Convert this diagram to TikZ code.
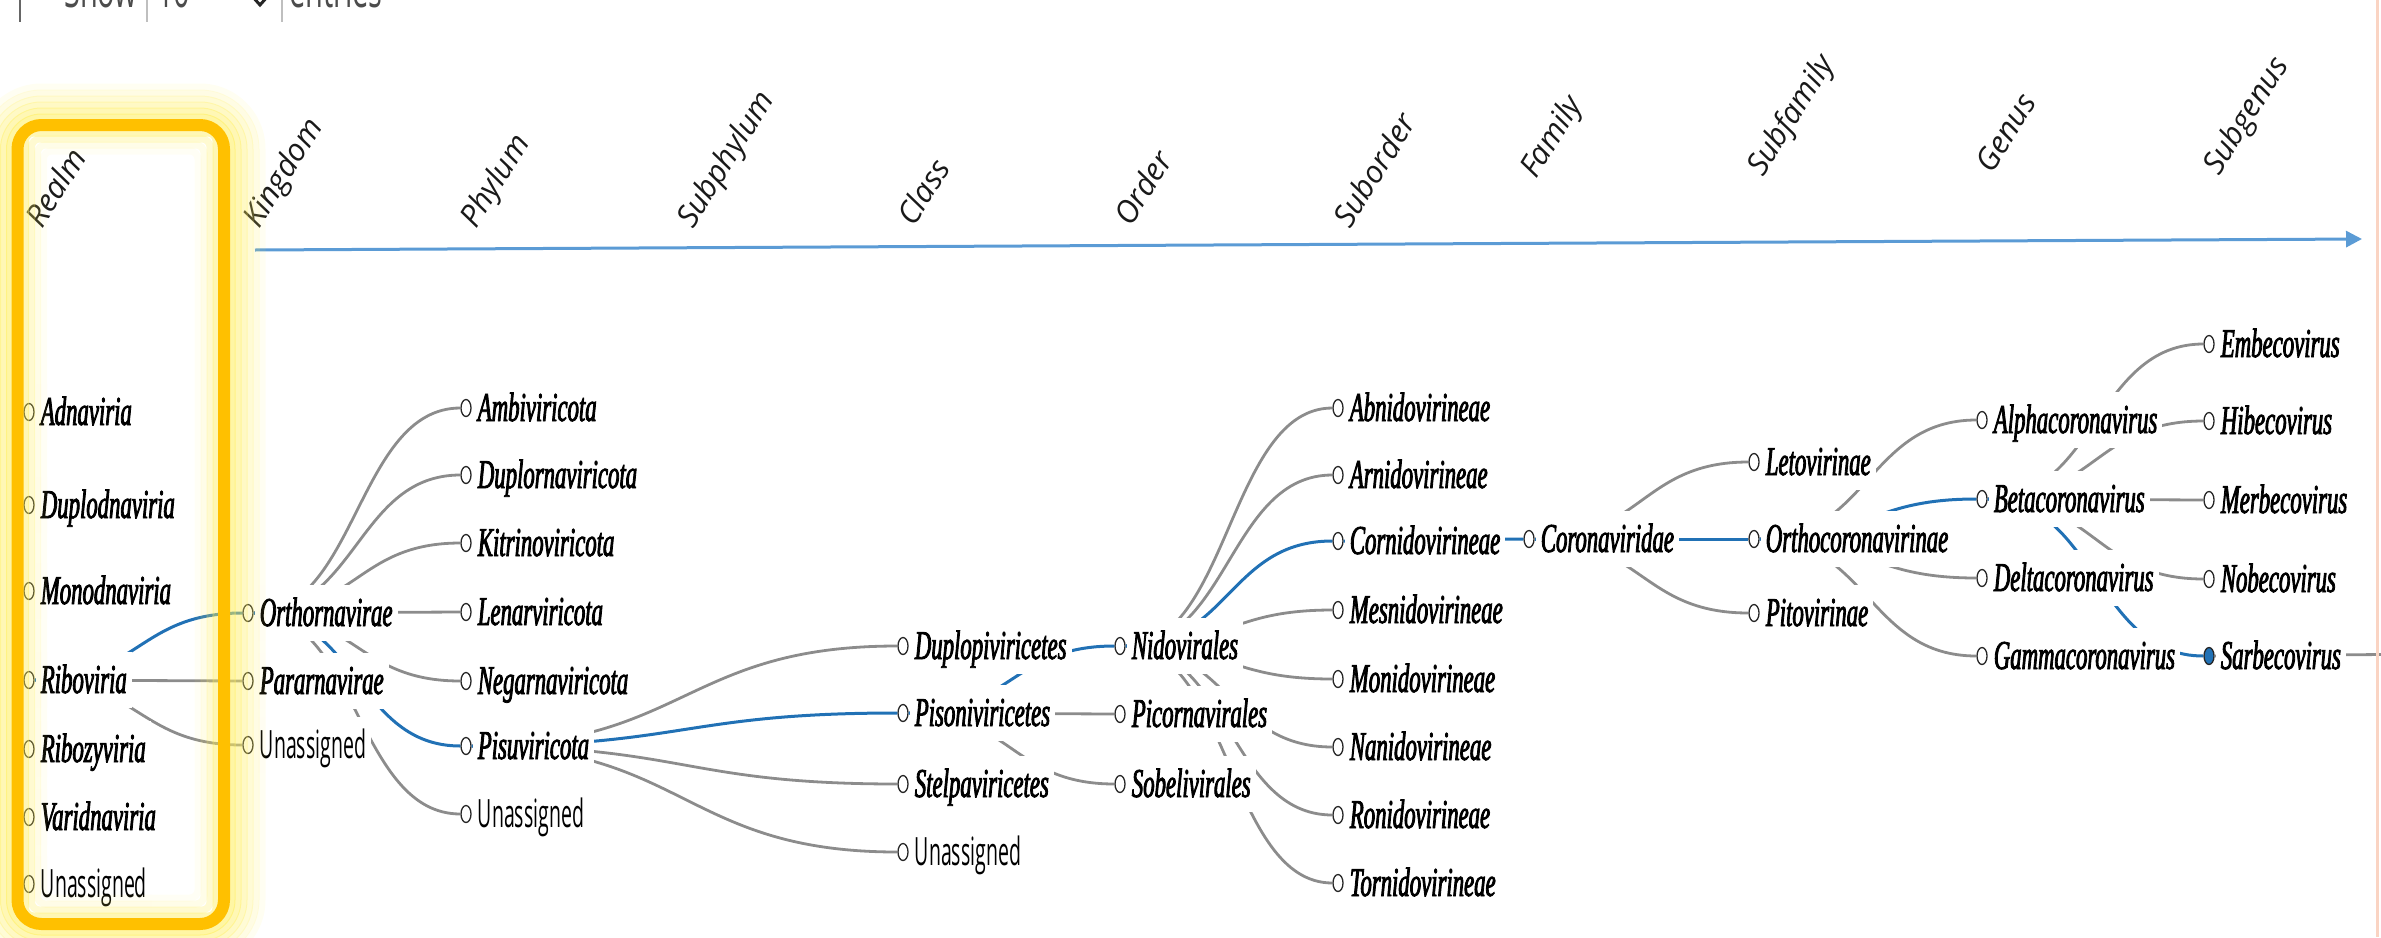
\documentclass[tikz,border=0pt]{standalone}
\usepackage{fontspec}
\usetikzlibrary{arrows.meta,calc,shapes.geometric}
\newfontfamily\taxfont[FakeStretch=0.555,FakeBold=2]{Liberation Serif}
\newfontfamily\plainfont[FakeStretch=0.5]{Open Sans}
\newfontfamily\uifont[FakeStretch=0.58]{Open Sans}
\newfontfamily\headfont{Open Sans}
\definecolor{linkgray}{RGB}{140,140,140}
\definecolor{linkblue}{RGB}{33,113,181}
\definecolor{axisblue}{RGB}{91,155,213}
\definecolor{boxgold}{RGB}{255,192,0}
\definecolor{glowyellow}{RGB}{255,238,90}
\definecolor{edgepink}{RGB}{250,212,195}
\tikzset{
  dot/.style={ellipse, draw=black!85, line width=1.3pt, fill=white,
    minimum width=10pt, minimum height=17pt, inner sep=0pt},
  taxon/.style={anchor=west, fill=white, inner xsep=5pt, inner ysep=0pt,
    text height=29pt, text depth=3pt, minimum height=56pt, text=black,
    font=\taxfont\itshape\fontsize{41}{42}\selectfont},
  unassigned/.style={taxon, font=\plainfont\fontsize{39}{40}\selectfont},
  rank/.style={anchor=base west, inner sep=0pt, rotate=58,
    text=black!90, font=\headfont\itshape\fontsize{31}{31}\selectfont},
  link/.style={draw=linkgray, line width=2.8pt},
  onpath/.style={draw=linkblue, line width=3pt},
  ui/.style={anchor=base west, inner sep=0pt, text=black!70,
    font=\uifont\fontsize{50}{50}\selectfont}
}
% tree link: horizontal tangents at both ends, controls at half the column gap
\newcommand\treelink[3][link]{%
  \draw[#1] let \p1=(#2.center), \p2=(#3.center), \n1={0.5*(\x2-\x1)} in
    (#2) .. controls +(\n1,0) and +(-\n1,0) .. (#3);}
\begin{document}
\begin{tikzpicture}[x=1pt, y=-1pt]
\useasboundingbox (0,0) rectangle (2381,937);

% table controls at the top edge
\draw[black!60, line width=2pt] (20,-5) -- (20,22);
\draw[black!25, line width=1.5pt] (147,-5) -- (147,22);
\draw[black!25, line width=1.5pt] (282,-5) -- (282,22);
\node[ui] (show) at (64,7) {Show};
\node[ui] (ten) at (157,7) {10};
\draw[black!85, line width=3pt] (252,-4) -- (260,5) -- (268,-4);
\node[ui] (entries) at (289,7) {entries};

% rank axis
\coordinate (axs) at (255,250);
\coordinate (axe) at (2362,239);
\draw[axisblue, line width=3pt, -{Triangle[length=16pt,width=16pt]}] (axs) -- (axe);

% rank headers
\node[rank] (hRealm) at (42,230) {Realm};
\node[rank] (hKingdom) at (259,230) {Kingdom};
\node[rank] (hPhylum) at (476,230) {Phylum};
\node[rank] (hSubphylum) at (693,230) {Subphylum};
\node[rank] (hClass) at (914,228) {Class};
\node[rank] (hOrder) at (1131,228) {Order};
\node[rank] (hSuborder) at (1350,230) {Suborder};
\node[rank] (hFamily) at (1536,180) {Family};
\node[rank] (hSubfamily) at (1763,178) {Subfamily};
\node[rank] (hGenus) at (1992,175) {Genus};
\node[rank] (hSubgenus) at (2219,177) {Subgenus};

% tree nodes
\node[dot] (r1) at (29,412) {};
\node[dot] (r2) at (29,505) {};
\node[dot] (r3) at (29,591) {};
\node[dot] (r4) at (29,680) {};
\node[dot] (r5) at (29,749) {};
\node[dot] (r6) at (29,817) {};
\node[dot] (r7) at (29,884) {};
\node[dot] (k1) at (248,613) {};
\node[dot] (k2) at (248,681) {};
\node[dot] (k3) at (248,745) {};
\node[dot] (p1) at (466,408) {};
\node[dot] (p2) at (466,475) {};
\node[dot] (p3) at (466,543) {};
\node[dot] (p4) at (466,612) {};
\node[dot] (p5) at (466,681) {};
\node[dot] (p6) at (466,746) {};
\node[dot] (p7) at (466,814) {};
\node[dot] (c1) at (903,646) {};
\node[dot] (c2) at (903,713) {};
\node[dot] (c3) at (903,784) {};
\node[dot] (c4) at (903,852) {};
\node[dot] (o1) at (1120,646) {};
\node[dot] (o2) at (1120,714) {};
\node[dot] (o3) at (1120,784) {};
\node[dot] (s1) at (1338,408) {};
\node[dot] (s2) at (1338,475) {};
\node[dot] (s3) at (1338,541) {};
\node[dot] (s4) at (1338,610) {};
\node[dot] (s5) at (1338,679) {};
\node[dot] (s6) at (1338,747) {};
\node[dot] (s7) at (1338,815) {};
\node[dot] (s8) at (1338,883) {};
\node[dot] (f1) at (1529,539) {};
\node[dot] (sf1) at (1754,462) {};
\node[dot] (sf2) at (1754,539) {};
\node[dot] (sf3) at (1754,613) {};
\node[dot] (g1) at (1982,420) {};
\node[dot] (g2) at (1982,499) {};
\node[dot] (g3) at (1982,578) {};
\node[dot] (g4) at (1982,656) {};
\node[dot] (sg1) at (2209,344) {};
\node[dot] (sg2) at (2209,421) {};
\node[dot] (sg3) at (2209,500) {};
\node[dot] (sg4) at (2209,579) {};
\node[dot, fill=linkblue] (sg5) at (2209,656) {};
\coordinate (species) at (2440,654);

% links
\treelink{r4}{k2}
\treelink{r4}{k3}
\treelink{k1}{p1}
\treelink{k1}{p2}
\treelink{k1}{p3}
\treelink{k1}{p4}
\treelink{k1}{p5}
\treelink{k1}{p7}
\treelink{p6}{c1}
\treelink{p6}{c3}
\treelink{p6}{c4}
\treelink{c2}{o2}
\treelink{c2}{o3}
\treelink{o1}{s1}
\treelink{o1}{s2}
\treelink{o1}{s4}
\treelink{o1}{s5}
\treelink{o1}{s6}
\treelink{o1}{s7}
\treelink{o1}{s8}
\treelink{f1}{sf1}
\treelink{f1}{sf3}
\treelink{sf2}{g1}
\treelink{sf2}{g3}
\treelink{sf2}{g4}
\treelink{g2}{sg1}
\treelink{g2}{sg2}
\treelink{g2}{sg3}
\treelink{g2}{sg4}
\draw[link] (sg5) -- (species);
% highlighted lineage
\treelink[onpath]{r4}{k1}
\treelink[onpath]{k1}{p6}
\treelink[onpath]{p6}{c2}
\treelink[onpath]{c2}{o1}
\treelink[onpath]{o1}{s3}
\treelink[onpath]{s3}{f1}
\treelink[onpath]{f1}{sf2}
\treelink[onpath]{sf2}{g2}
\treelink[onpath]{g2}{sg5}

% labels
\node[taxon] (r1t) at ([xshift=1pt]r1.east) {Adnaviria};
\node[taxon] (r2t) at ([xshift=1pt]r2.east) {Duplodnaviria};
\node[taxon] (r3t) at ([xshift=1pt]r3.east) {Monodnaviria};
\node[taxon] (r4t) at ([xshift=1pt]r4.east) {Riboviria};
\node[taxon] (r5t) at ([xshift=1pt]r5.east) {Ribozyviria};
\node[taxon] (r6t) at ([xshift=1pt]r6.east) {Varidnaviria};
\node[unassigned] (r7t) at ([xshift=1pt]r7.east) {Unassigned};
\node[taxon] (k1t) at ([xshift=1pt]k1.east) {Orthornavirae};
\node[taxon] (k2t) at ([xshift=1pt]k2.east) {Pararnavirae};
\node[unassigned] (k3t) at ([xshift=1pt]k3.east) {Unassigned};
\node[taxon] (p1t) at ([xshift=1pt]p1.east) {Ambiviricota};
\node[taxon] (p2t) at ([xshift=1pt]p2.east) {Duplornaviricota};
\node[taxon] (p3t) at ([xshift=1pt]p3.east) {Kitrinoviricota};
\node[taxon] (p4t) at ([xshift=1pt]p4.east) {Lenarviricota};
\node[taxon] (p5t) at ([xshift=1pt]p5.east) {Negarnaviricota};
\node[taxon] (p6t) at ([xshift=1pt]p6.east) {Pisuviricota};
\node[unassigned] (p7t) at ([xshift=1pt]p7.east) {Unassigned};
\node[taxon] (c1t) at ([xshift=1pt]c1.east) {Duplopiviricetes};
\node[taxon] (c2t) at ([xshift=1pt]c2.east) {Pisoniviricetes};
\node[taxon] (c3t) at ([xshift=1pt]c3.east) {Stelpaviricetes};
\node[unassigned] (c4t) at ([xshift=1pt]c4.east) {Unassigned};
\node[taxon] (o1t) at ([xshift=1pt]o1.east) {Nidovirales};
\node[taxon] (o2t) at ([xshift=1pt]o2.east) {Picornavirales};
\node[taxon] (o3t) at ([xshift=1pt]o3.east) {Sobelivirales};
\node[taxon] (s1t) at ([xshift=1pt]s1.east) {Abnidovirineae};
\node[taxon] (s2t) at ([xshift=1pt]s2.east) {Arnidovirineae};
\node[taxon] (s3t) at ([xshift=1pt]s3.east) {Cornidovirineae};
\node[taxon] (s4t) at ([xshift=1pt]s4.east) {Mesnidovirineae};
\node[taxon] (s5t) at ([xshift=1pt]s5.east) {Monidovirineae};
\node[taxon] (s6t) at ([xshift=1pt]s6.east) {Nanidovirineae};
\node[taxon] (s7t) at ([xshift=1pt]s7.east) {Ronidovirineae};
\node[taxon] (s8t) at ([xshift=1pt]s8.east) {Tornidovirineae};
\node[taxon] (f1t) at ([xshift=1pt]f1.east) {Coronaviridae};
\node[taxon] (sf1t) at ([xshift=1pt]sf1.east) {Letovirinae};
\node[taxon] (sf2t) at ([xshift=1pt]sf2.east) {Orthocoronavirinae};
\node[taxon] (sf3t) at ([xshift=1pt]sf3.east) {Pitovirinae};
\node[taxon] (g1t) at ([xshift=1pt]g1.east) {Alphacoronavirus};
\node[taxon] (g2t) at ([xshift=1pt]g2.east) {Betacoronavirus};
\node[taxon] (g3t) at ([xshift=1pt]g3.east) {Deltacoronavirus};
\node[taxon] (g4t) at ([xshift=1pt]g4.east) {Gammacoronavirus};
\node[taxon] (sg1t) at ([xshift=1pt]sg1.east) {Embecovirus};
\node[taxon] (sg2t) at ([xshift=1pt]sg2.east) {Hibecovirus};
\node[taxon] (sg3t) at ([xshift=1pt]sg3.east) {Merbecovirus};
\node[taxon] (sg4t) at ([xshift=1pt]sg4.east) {Nobecovirus};
\node[taxon] (sg5t) at ([xshift=1pt]sg5.east) {Sarbecovirus};

% soft glow round the realm frame: strong just outside, faint inside
\foreach \d/\o in {8/0.55,14/0.45,20/0.35,26/0.25,32/0.16,38/0.08}
  \draw[glowyellow, opacity=\o, line width=7pt, rounded corners={24pt+\d pt}]
    ({17.5-\d},{125-\d}) rectangle ({224+\d},{924+\d});
\foreach \d/\o in {8/0.45,14/0.28,20/0.14,26/0.06}
  \draw[glowyellow, opacity=\o, line width=7pt, rounded corners=8pt]
    ({17.5+\d},{125+\d}) rectangle ({224-\d},{924-\d});
\draw[boxgold, line width=12pt, rounded corners=24pt] (17.5,125) rectangle (224,924);

% page edge
\fill[edgepink] (2376,0) rectangle (2379,937);
\end{tikzpicture}
\end{document}
